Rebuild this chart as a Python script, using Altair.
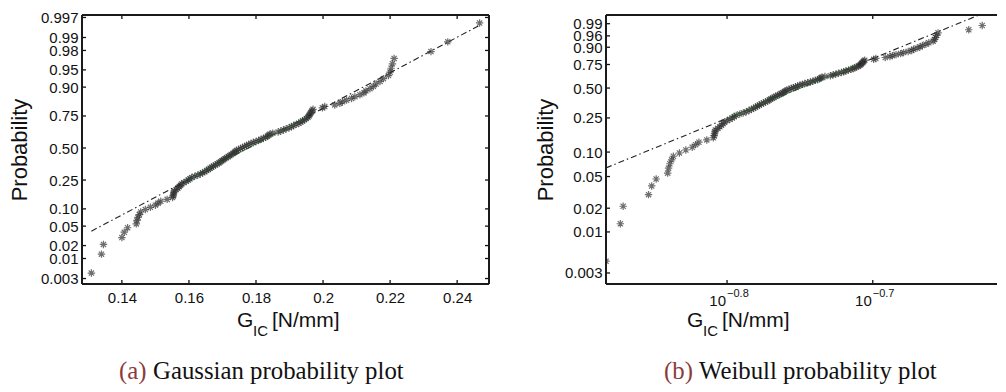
import math
from statistics import NormalDist
import altair as alt
import pandas as pd

# ---------------- data ----------------
# sorted G_IC samples [N/mm]
gic = [
    0.1309, 0.1339, 0.1345, 0.1400, 0.1407, 0.1417, 0.1443, 0.1445, 0.1448, 0.1452,
    0.1456, 0.1470, 0.1485, 0.1500, 0.1508, 0.1516, 0.1535, 0.1551, 0.1553, 0.1554,
    0.1555, 0.1556, 0.1562, 0.1567, 0.1571, 0.1575, 0.1578, 0.1585, 0.1592, 0.1598,
    0.1603, 0.1608, 0.1617, 0.1626, 0.1634, 0.1641, 0.1647, 0.1653, 0.1658, 0.1663,
    0.1668, 0.1673, 0.1679, 0.1684, 0.1690, 0.1694, 0.1698, 0.1703, 0.1707, 0.1712,
    0.1717, 0.1722, 0.1726, 0.1731, 0.1735, 0.1738, 0.1742, 0.1748, 0.1754, 0.1760,
    0.1766, 0.1772, 0.1778, 0.1785, 0.1792, 0.1800, 0.1808, 0.1815, 0.1822, 0.1829,
    0.1834, 0.1838, 0.1841, 0.1850, 0.1866, 0.1874, 0.1882, 0.1890, 0.1899, 0.1906,
    0.1912, 0.1920, 0.1928, 0.1934, 0.1939, 0.1945, 0.1950, 0.1955, 0.1958, 0.1960,
    0.1962, 0.1965, 0.1967, 0.1970, 0.1998, 0.2005, 0.2035, 0.2050, 0.2058, 0.2070,
    0.2085, 0.2095, 0.2110, 0.2122, 0.2128, 0.2140, 0.2150, 0.2158, 0.2170, 0.2180,
    0.2195, 0.2200, 0.2203, 0.2207, 0.2212, 0.2322, 0.2372, 0.2467,
]

norm_tick_p = [0.003, 0.01, 0.02, 0.05, 0.10, 0.25, 0.50, 0.75, 0.90, 0.95, 0.98, 0.99, 0.997]
norm_tick_labels = ["0.003", "0.01", "0.02", "0.05", "0.10", "0.25", "0.50",
                    "0.75", "0.90", "0.95", "0.98", "0.99", "0.997"]
wbl_tick_p = [0.003, 0.01, 0.02, 0.05, 0.10, 0.25, 0.50, 0.75, 0.90, 0.96, 0.99]
wbl_tick_labels = ["0.003", "0.01", "0.02", "0.05", "0.10", "0.25", "0.50",
                   "0.75", "0.90", "0.96", "0.99"]

norm_x_ticks = [0.14, 0.16, 0.18, 0.20, 0.22, 0.24]
norm_x_labels = ["0.14", "0.16", "0.18", "0.2", "0.22", "0.24"]
wbl_x_exponents = [-0.8, -0.7]
wbl_x_exp_labels = ["\u22120.8", "\u22120.7"]

# reference (fitted) lines: end points (G_IC, probability)
norm_fit_x = [0.1309, 0.2467]
norm_fit_p = [0.040, 0.9951]
norm_mid_x = [0.1597, 0.1957]
norm_mid_p = [0.25, 0.75]
wbl_fit_x = [0.1309, 0.2360]
wbl_fit_p = [0.064, 0.9974]
wbl_mid_x = [0.1586, 0.1949]
wbl_mid_p = [0.25, 0.75]

norm_x_domain = [0.1281, 0.2495]
norm_y_domain = [-2.863, 2.80]
wbl_x_domain = [0.1309, 0.2428]   # right side of the panel is cut off by the page edge
wbl_y_domain = [-6.132, 1.783]

# ---------------- styling ----------------
FONT = "Liberation Sans"
SERIF = "Liberation Serif"
INK = "#111111"
W1, W2, H = 407, 391, 269
STAR = "M-1,0L1,0M0,-1L0,1M-0.7,-0.7L0.7,0.7M-0.7,0.7L0.7,-0.7"

nd = NormalDist()
n = len(gic)
pos = [(i - 0.5) / n for i in range(1, n + 1)]  # plotting positions


def probit(p):
    return nd.inv_cdf(p)


def weib(p):
    return math.log(-math.log(1.0 - p))


def js_list(vals):
    return "[" + ",".join(repr(v) for v in vals) + "]"


def label_expr(vals, labels):
    return f"{js_list(labels)}[indexof({js_list(vals)}, datum.value)]"


def text_layer(txt, x, y, size, font=FONT, color=INK, align="left"):
    return alt.Chart(pd.DataFrame({"t": [txt]})).mark_text(
        font=font, fontSize=size, color=color, align=align, baseline="alphabetic"
    ).encode(x=alt.value(x), y=alt.value(y), text="t:N")


def edge(x1, x2, y1, y2):
    return alt.Chart(pd.DataFrame({"f": [0]})).mark_rule(
        color="#1a1a1a", strokeWidth=2
    ).encode(x=alt.value(x1), x2=alt.value(x2), y=alt.value(y1), y2=alt.value(y2))


def panel(width, xscale, xaxis, yscale, yfun, ytick_p, ytick_lbl, xtick_vals,
          fit_x, fit_p, mid_x, mid_p, extent, title_pad, extra, right_edge, clip):
    yvals = [yfun(p) for p in ytick_p]
    yaxis = alt.Axis(values=yvals, labelExpr=label_expr(yvals, ytick_lbl),
                     title="Probability", ticks=False, domain=False, grid=False,
                     labelFont=FONT, labelFontSize=15, labelColor=INK,
                     labelOverlap=False, labelFlush=False, labelPadding=4,
                     titleFont=FONT, titleFontSize=22, titleFontWeight="normal",
                     titleColor=INK, titlePadding=title_pad,
                     minExtent=extent, maxExtent=extent)

    def X():
        return alt.X("x:Q", scale=xscale, axis=xaxis)

    def Y():
        return alt.Y("y:Q", scale=yscale, axis=yaxis)

    pts = pd.DataFrame({"x": gic, "y": [yfun(p) for p in pos]})
    points = alt.Chart(pts).mark_point(
        shape=STAR, size=55, strokeWidth=1.2, color="#333333", opacity=0.7,
        filled=False, clip=clip
    ).encode(x=X(), y=Y())
    fit = alt.Chart(pd.DataFrame({"x": fit_x, "y": [yfun(p) for p in fit_p]})).mark_line(
        color="#222222", strokeWidth=1.1, strokeDash=[6, 3, 1.5, 3], clip=True
    ).encode(x=X(), y=Y())
    mid = alt.Chart(pd.DataFrame({"x": mid_x, "y": [yfun(p) for p in mid_p]})).mark_line(
        color="#2e7d32", strokeWidth=1, opacity=0.6
    ).encode(x=X(), y=Y())
    tx = pd.DataFrame({"x": xtick_vals})
    ty = pd.DataFrame({"y": yvals})
    layers = [points, fit, mid]
    layers.append(alt.Chart(tx).mark_rule(color=INK, strokeWidth=1.3).encode(
        x=X(), y=alt.value(H), y2=alt.value(H - 4)))
    layers.append(alt.Chart(tx).mark_rule(color=INK, strokeWidth=1.3).encode(
        x=X(), y=alt.value(0), y2=alt.value(4)))
    layers.append(alt.Chart(ty).mark_rule(color=INK, strokeWidth=1.3).encode(
        y=Y(), x=alt.value(0), x2=alt.value(4)))
    layers += [edge(0, width, 0, 0), edge(0, width, H, H), edge(0, 0, 0, H)]
    if right_edge:
        layers.append(alt.Chart(ty).mark_rule(color=INK, strokeWidth=1.3).encode(
            y=Y(), x=alt.value(width - 4), x2=alt.value(width)))
        layers.append(edge(width, width, 0, H))
    layers += [f(X) for f in extra]
    return alt.layer(*layers).properties(width=width, height=H)


# ---------------- left: Gaussian ----------------
left_xaxis = alt.Axis(values=norm_x_ticks, labelExpr=label_expr(norm_x_ticks, norm_x_labels),
                      ticks=False, domain=False, grid=False, title=None,
                      labelFont=FONT, labelFontSize=15, labelColor=INK,
                      labelPadding=6, labelFlush=False, labelOverlap=False)
left_extra = [
    lambda X: text_layer("G", 155, 312, 21),
    lambda X: text_layer("IC", 171, 321, 15),
    lambda X: text_layer("[N/mm]", 190, 312, 21),
    lambda X: text_layer("(a)", 37, 364, 24.8, font=SERIF, color="#8c3b3b"),
    lambda X: text_layer("Gaussian probability plot", 71, 364, 24.8, font=SERIF),
]
left = panel(W1, alt.Scale(domain=norm_x_domain, nice=False, zero=False), left_xaxis,
             alt.Scale(domain=norm_y_domain, nice=False, zero=False),
             probit, norm_tick_p, norm_tick_labels, norm_x_ticks,
             norm_fit_x, norm_fit_p, norm_mid_x, norm_mid_p, 46, 5, left_extra,
             True, False)

# ---------------- right: Weibull ----------------
wbl_x_ticks = [10 ** e for e in wbl_x_exponents]
exp_df = pd.DataFrame({"x": wbl_x_ticks, "base": ["10"] * len(wbl_x_ticks),
                       "ex": wbl_x_exp_labels})


def base_layer(X):
    return alt.Chart(exp_df).mark_text(font=FONT, fontSize=15, color=INK, align="right",
                                       baseline="alphabetic", dx=-1).encode(
        x=X(), y=alt.value(H + 22), text="base:N")


def exp_layer(X):
    return alt.Chart(exp_df).mark_text(font=FONT, fontSize=11, color=INK, align="left",
                                       baseline="alphabetic", dx=0).encode(
        x=X(), y=alt.value(H + 13), text="ex:N")


right_extra = [
    base_layer,
    exp_layer,
    lambda X: text_layer("G", 81, 312, 21),
    lambda X: text_layer("IC", 97, 321, 15),
    lambda X: text_layer("[N/mm]", 116, 312, 21),
    lambda X: text_layer("(b)", 58, 364, 24.8, font=SERIF, color="#8c3b3b"),
    lambda X: text_layer("Weibull probability plot", 93, 364, 24.8, font=SERIF),
]
right = panel(W2, alt.Scale(type="log", domain=wbl_x_domain, nice=False), None,
              alt.Scale(domain=wbl_y_domain, nice=False, zero=False),
              weib, wbl_tick_p, wbl_tick_labels, wbl_x_ticks,
              wbl_fit_x, wbl_fit_p, wbl_mid_x, wbl_mid_p, 47, 2, right_extra,
              False, True)

chart = alt.hconcat(left, right, spacing=44).properties(
    padding={"left": 0, "top": 2, "right": 0, "bottom": 0},
    background="white",
).configure_view(strokeWidth=0)

chart.save("out.html", embed_options={"renderer": "svg", "actions": False})
